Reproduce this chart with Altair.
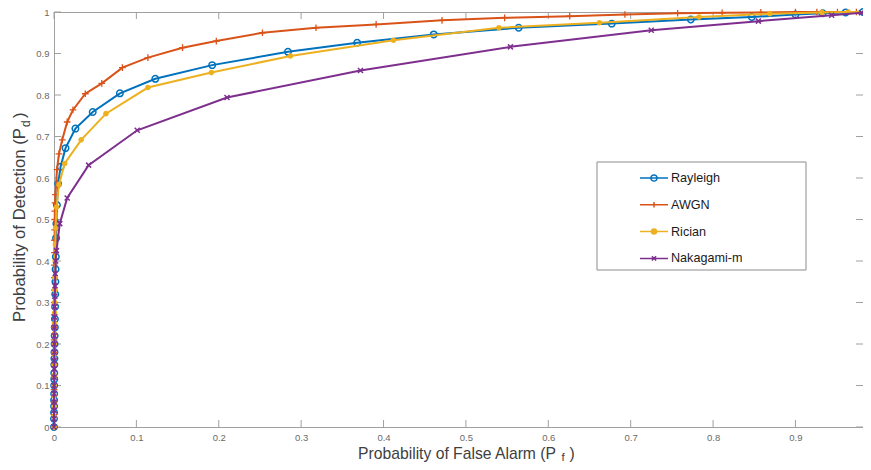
import altair as alt
import pandas as pd

# ---------------- data ----------------
series_names = ["Rayleigh", "AWGN", "Rician", "Nakagami-m"]
series_colors = ["#0072BD", "#D95319", "#EDB120", "#7E2F8E"]

rayleigh_pf = [0.0000, 0.0000, 0.0001, 0.0001, 0.0001, 0.0002, 0.0002, 0.0003, 0.0003, 0.0004,
               0.0005, 0.0006, 0.0007, 0.0008, 0.0010, 0.0011, 0.0013, 0.0015, 0.0017, 0.0019,
               0.0022, 0.0025, 0.0029, 0.0035, 0.0050, 0.0080, 0.0140, 0.0260, 0.0470, 0.0800,
               0.1230, 0.1920, 0.2840, 0.3680, 0.4610, 0.5640, 0.6770, 0.7730, 0.8470, 0.9000,
               0.9330, 0.9610, 0.9820, 0.9900]
rayleigh_pd = [0.000, 0.020, 0.035, 0.050, 0.065, 0.080, 0.100, 0.115, 0.130, 0.150,
               0.165, 0.180, 0.200, 0.220, 0.240, 0.260, 0.290, 0.320, 0.350, 0.380,
               0.410, 0.455, 0.490, 0.535, 0.586, 0.627, 0.672, 0.719, 0.759, 0.804,
               0.839, 0.872, 0.904, 0.926, 0.946, 0.962, 0.972, 0.982, 0.988, 0.994,
               0.997, 0.999, 1.000, 1.000]

awgn_pf = [0.0000, 0.0000, 0.0000, 0.0001, 0.0001, 0.0001, 0.0002, 0.0002, 0.0002, 0.0003,
           0.0003, 0.0004, 0.0004, 0.0005, 0.0006, 0.0007, 0.0008, 0.0009, 0.0010, 0.0012,
           0.0017, 0.0036, 0.0060, 0.0100, 0.0160, 0.0230, 0.0380, 0.0580, 0.0830, 0.1140,
           0.1560, 0.1970, 0.2530, 0.3180, 0.3910, 0.4710, 0.5470, 0.6260, 0.6930, 0.7570,
           0.8110, 0.8580, 0.9000, 0.9260, 0.9510, 0.9740, 0.9880]
awgn_pd = [0.000, 0.030, 0.060, 0.090, 0.120, 0.150, 0.180, 0.210, 0.240, 0.270,
           0.300, 0.330, 0.360, 0.390, 0.420, 0.450, 0.475, 0.500, 0.520, 0.540,
           0.560, 0.620, 0.658, 0.692, 0.735, 0.764, 0.803, 0.828, 0.866, 0.890,
           0.914, 0.930, 0.950, 0.962, 0.970, 0.980, 0.986, 0.990, 0.994, 0.997,
           0.998, 0.999, 1.000, 1.000, 1.000, 1.000, 1.000]

rician_pf = [0.0000, 0.0000, 0.0001, 0.0001, 0.0002, 0.0002, 0.0003, 0.0003, 0.0004, 0.0005,
             0.0006, 0.0007, 0.0008, 0.0010, 0.0012, 0.0014, 0.0017, 0.0020, 0.0030, 0.0060,
             0.0130, 0.0330, 0.0630, 0.1140, 0.1910, 0.2870, 0.4120, 0.5400, 0.6620, 0.7830,
             0.8690, 0.9320, 0.9640, 0.9860]
rician_pd = [0.000, 0.025, 0.050, 0.075, 0.100, 0.125, 0.150, 0.175, 0.200, 0.225,
             0.250, 0.275, 0.300, 0.330, 0.360, 0.400, 0.440, 0.480, 0.530, 0.584,
             0.635, 0.692, 0.755, 0.818, 0.854, 0.894, 0.932, 0.962, 0.974, 0.988,
             0.996, 0.999, 1.000, 1.000]

nakagami_pf = [0.0000, 0.0000, 0.0001, 0.0001, 0.0001, 0.0002, 0.0002, 0.0003, 0.0003, 0.0004,
               0.0004, 0.0005, 0.0006, 0.0007, 0.0008, 0.0010, 0.0012, 0.0015, 0.0020, 0.0030,
               0.0070, 0.0160, 0.0420, 0.1010, 0.2100, 0.3720, 0.5540, 0.7250, 0.8550, 0.9440,
               0.9800, 0.9900]
nakagami_pd = [0.000, 0.020, 0.040, 0.060, 0.080, 0.100, 0.120, 0.140, 0.160, 0.180,
               0.200, 0.220, 0.240, 0.265, 0.290, 0.315, 0.340, 0.370, 0.400, 0.425,
               0.490, 0.552, 0.631, 0.715, 0.794, 0.859, 0.916, 0.956, 0.978, 0.992,
               0.998, 1.000]

x_ticks = [0, 0.1, 0.2, 0.3, 0.4, 0.5, 0.6, 0.7, 0.8, 0.9]
y_ticks = [0, 0.1, 0.2, 0.3, 0.4, 0.5, 0.6, 0.7, 0.8, 0.9, 1.0]

x_title_main = "Probability of False Alarm (P"
x_title_sub = "f"
y_title_main = "Probability of Detection (P"
y_title_sub = "d"
close_paren = ")"

# ---------------- table ----------------
all_pf = [rayleigh_pf, awgn_pf, rician_pf, nakagami_pf]
all_pd = [rayleigh_pd, awgn_pd, rician_pd, nakagami_pd]
rows = []
for name, pfs, pds in zip(series_names, all_pf, all_pd):
    for i, (a, b) in enumerate(zip(pfs, pds)):
        rows.append({"series": name, "idx": i, "pf": a, "pd": b})
df = pd.DataFrame(rows)

# ---------------- styling ----------------
W, H = 809, 415
FONT = "Liberation Sans"
GRAY = "#a0a0a0"
TITLE_COLOR = "#404040"

x_scale = alt.Scale(domain=[0, 0.982], nice=False, zero=False)
y_scale = alt.Scale(domain=[0, 1], nice=False, zero=False)
x_axis = alt.Axis(values=x_ticks, format="~g", title=None, grid=False, ticks=False, tickSize=0,
                  labelFontSize=9.5, labelColor="#6a6a6a", labelPadding=5, labelFont=FONT,
                  labelFlush=False, labelOverlap=False, domainColor=GRAY, domainWidth=1)
y_axis = alt.Axis(values=y_ticks, format="~g", title=None, grid=False, ticks=False, tickSize=0,
                  labelFontSize=9.5, labelColor="#6a6a6a", labelPadding=5, labelFont=FONT,
                  labelFlush=False, labelOverlap=False, domainColor=GRAY, domainWidth=1)
color_scale = alt.Scale(domain=series_names, range=series_colors)

legend_shapes = [
    "M-1,0H1M-0.22,0A0.22,0.22,0,1,1,0.22,0A0.22,0.22,0,1,1,-0.22,0",
    "M-1,0H1M0,-0.2V0.2",
    "M-1,0H1M-0.18,0A0.18,0.18,0,1,1,0.18,0A0.18,0.18,0,1,1,-0.18,0"
    "M-0.09,0A0.09,0.09,0,1,1,0.09,0A0.09,0.09,0,1,1,-0.09,0",
    "M-1,0H1M-0.15,-0.15L0.15,0.15M-0.15,0.15L0.15,-0.15",
]
shape_scale = alt.Scale(domain=series_names, range=legend_shapes)

legend_def = alt.Legend(title=None, orient="none", legendX=585, legendY=151, padding=0,
                        symbolOffset=0, symbolSize=784, symbolStrokeWidth=1.5,
                        labelFontSize=12.6, labelFont=FONT, labelColor="#1a1a1a",
                        labelOffset=2, rowPadding=4.8)

X = alt.X("pf:Q", scale=x_scale, axis=x_axis)
Y = alt.Y("pd:Q", scale=y_scale, axis=y_axis)

# legend only (no data drawn)
legend_layer = alt.Chart(df).transform_filter("false").mark_point(filled=False, opacity=1).encode(
    x=X, y=Y,
    color=alt.Color("series:N", scale=color_scale, legend=legend_def),
    shape=alt.Shape("series:N", scale=shape_scale, legend=legend_def),
)

legend_box = alt.Chart(pd.DataFrame({"k": [0]})).mark_rect(
    fill="white", stroke="#8c8c8c", strokeWidth=1
).encode(x=alt.value(543), x2=alt.value(752), y=alt.value(150), y2=alt.value(258))

# inward ticks (MATLAB style)
xt_df = pd.DataFrame({"pf": x_ticks})
yt_df = pd.DataFrame({"pd": y_ticks})
tick_len = 7
ticks_bottom = alt.Chart(xt_df).mark_rule(color=GRAY, strokeWidth=1).encode(
    x=X, y=alt.value(H), y2=alt.value(H - tick_len))
ticks_top = alt.Chart(xt_df).mark_rule(color=GRAY, strokeWidth=1).encode(
    x=X, y=alt.value(0), y2=alt.value(tick_len))
ticks_left = alt.Chart(yt_df).mark_rule(color=GRAY, strokeWidth=1).encode(
    y=Y, x=alt.value(0), x2=alt.value(tick_len))
ticks_right = alt.Chart(yt_df).mark_rule(color=GRAY, strokeWidth=1).encode(
    y=Y, x=alt.value(W), x2=alt.value(W - tick_len))

marker_styles = {
    "Rayleigh": dict(shape="circle", filled=False, size=42, strokeWidth=1.5),
    "AWGN": dict(shape="M0,-1V1M-1,0H1", filled=False, size=45, strokeWidth=1.3),
    "Rician": dict(shape="circle", filled=False, size=8, strokeWidth=2.8),
    "Nakagami-m": dict(shape="M-1,-1L1,1M-1,1L1,-1", filled=False, size=25, strokeWidth=1.5),
}

series_layers = []
for name in series_names:
    base = alt.Chart(df).transform_filter(alt.datum.series == name)
    col = alt.Color("series:N", scale=color_scale, legend=None)
    line = base.mark_line(strokeWidth=2).encode(x=X, y=Y, color=col, order=alt.Order("idx:Q"))
    pts = base.mark_point(opacity=1, **marker_styles[name]).encode(x=X, y=Y, color=col)
    series_layers += [line, pts]


def text_layer(txt, x, y, size, align="left", angle=0):
    return alt.Chart(pd.DataFrame({"t": [txt]})).mark_text(
        align=align, baseline="alphabetic", fontSize=size, font=FONT,
        color=TITLE_COLOR, angle=angle
    ).encode(text="t:N", x=alt.value(x), y=alt.value(y))


titles = [
    text_layer(x_title_main, 502, 446.5, 15.7, align="right"),
    text_layer(x_title_sub, 507.5, 448.5, 11.5),
    text_layer(close_paren, 515.5, 446.5, 15.7),
    text_layer(y_title_main, -29, 310, 16.8, align="left", angle=270),
    text_layer(y_title_sub, -24, 115, 12, align="left", angle=270),
    text_layer(close_paren, -29, 106, 16.8, align="left", angle=270),
]

chart = alt.layer(
    legend_layer, legend_box, ticks_bottom, ticks_top, ticks_left, ticks_right,
    *series_layers, *titles
).properties(
    width=W, height=H,
    autosize=alt.AutoSizeParams(type="none"),
    padding={"left": 46, "top": 4, "right": 0, "bottom": 35},
).configure_view(stroke=GRAY, strokeWidth=1)

chart.save("out.html", embed_options={"renderer": "svg", "actions": False})
